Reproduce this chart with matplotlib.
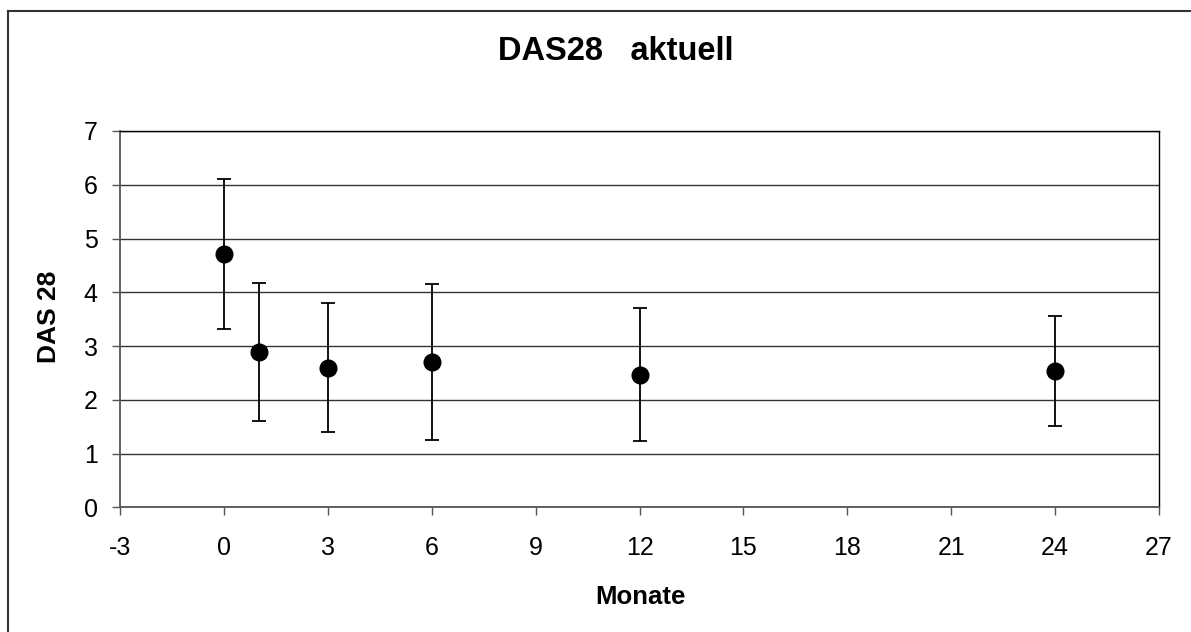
import matplotlib
matplotlib.use("Agg")
import matplotlib.pyplot as plt
from matplotlib.lines import Line2D

plt.rcParams['font.family'] = ['Liberation Sans', 'DejaVu Sans']

# Follow-up time points (months) with mean DAS28 and standard deviation
months = [0, 1, 3, 6, 12, 24]
das28_mean = [4.71, 2.89, 2.60, 2.70, 2.47, 2.54]
das28_sd = [1.40, 1.29, 1.20, 1.45, 1.23, 1.02]

x_ticks = [-3, 0, 3, 6, 9, 12, 15, 18, 21, 24, 27]
y_ticks = [0, 1, 2, 3, 4, 5, 6, 7]

W, H = 1191, 632
fig = plt.figure(figsize=(W / 100, H / 100), dpi=100)
ax = fig.add_axes([120 / W, 1 - 507.3 / H, (1159 - 120) / W, (507.3 - 131) / H])

ax.errorbar(months, das28_mean, yerr=das28_sd, fmt='o', color='black',
            markersize=12, ecolor='black', elinewidth=1.3, capsize=5,
            capthick=1.3, zorder=3)

ax.set_xlim(-3, 27)
ax.set_ylim(0, 7)
ax.set_xticks(x_ticks)
ax.set_yticks(y_ticks)
ax.set_xticklabels([str(v) for v in x_ticks])
ax.set_yticklabels([str(v) for v in y_ticks])
ax.tick_params(axis='both', direction='out', length=6, width=1,
               color='#555555', labelsize=18)
ax.tick_params(axis='x', pad=15)
ax.tick_params(axis='y', pad=10)
ax.yaxis.grid(True, color='#333333', linewidth=1)
ax.set_axisbelow(True)
for side in ('left', 'bottom'):
    ax.spines[side].set_color('#555555')
    ax.spines[side].set_linewidth(1.3)
for side in ('top', 'right'):
    ax.spines[side].set_color('black')
    ax.spines[side].set_linewidth(1.0)

fig.text(616 / W, 1 - 52 / H, 'DAS28   aktuell', ha='center', va='center',
         fontsize=23.5, fontweight='bold')
fig.text(640 / W, 1 - 597 / H, 'Monate', ha='center', va='center',
         fontsize=18.5, fontweight='bold')
fig.text(49 / W, 1 - 317 / H, 'DAS 28', ha='center', va='center',
         rotation=90, fontsize=19, fontweight='bold')

# Chart frame (top and left edges)
fig.add_artist(Line2D([8 / W, 1.0], [1 - 11 / H, 1 - 11 / H],
                      transform=fig.transFigure, color='#333333', linewidth=1.5))
fig.add_artist(Line2D([8 / W, 8 / W], [0.0, 1 - 11 / H],
                      transform=fig.transFigure, color='#333333', linewidth=1.5))

fig.savefig('out.png', dpi=100, facecolor='white')
